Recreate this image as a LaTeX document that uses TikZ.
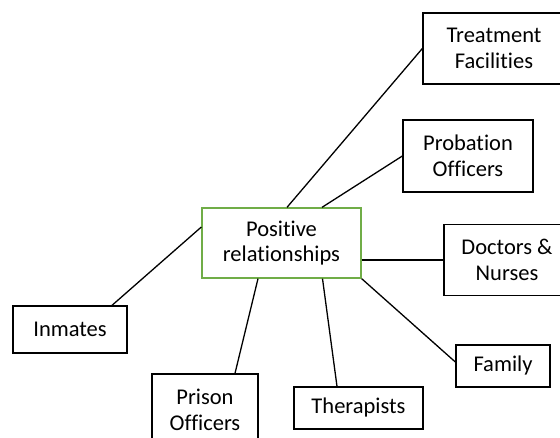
\documentclass[tikz,border=0pt]{standalone}
\usepackage{fontspec}
\setmainfont[Ligatures=NoCommon]{Carlito}
\usepackage{xcolor}
\definecolor{boxgreen}{RGB}{112,173,71}

\begin{document}
\begin{tikzpicture}[x=1pt,y=1pt,
    box/.style={draw=black,line width=1.3pt,align=center,inner sep=0pt,
                font=\fontsize{22.5}{25.5}\selectfont},
    link/.style={draw=black,line width=1.3pt}]
    \clip (0,0) rectangle (560,437);
    % centre box
    \node[box,draw=boxgreen,minimum width=159,minimum height=70] (pos) at (281.5,194) {Positive\\relationships};
    % the people round it
    \node[box,minimum width=142,minimum height=71] (treat) at (494,388.5) {Treatment\\Facilities};
    \node[box,minimum width=130,minimum height=72] (prob) at (468,281) {Probation\\Officers};
    \node[box,minimum width=126,minimum height=71] (doc) at (507,177) {Doctors \&\\Nurses};
    \node[box,minimum width=114,minimum height=47] (inm) at (70,107.5) {Inmates};
    \node[box,minimum width=106,minimum height=72] (pris) at (205,27) {Prison\\Officers};
    \node[box,minimum width=129,minimum height=42] (ther) at (358.5,29) {Therapists};
    \node[box,minimum width=94,minimum height=42] (fam) at (503,71) {Family};
    % connectors
    \draw[link] ([xshift=5.5]pos.north) -- (treat.west);
    \draw[link] ([xshift=40.5]pos.north) -- (prob.west);
    \draw[link] ([yshift=-17]pos.east) -- (doc.west);
    \draw[link] (pos.south east) -- ([yshift=4]fam.west);
    \draw[link] ([xshift=41]pos.south) -- ([xshift=-21.5]ther.north);
    \draw[link] ([xshift=-23.5]pos.south) -- ([xshift=30]pris.north);
    \draw[link] ([yshift=16]pos.west) -- ([xshift=42]inm.north);
\end{tikzpicture}
\end{document}
